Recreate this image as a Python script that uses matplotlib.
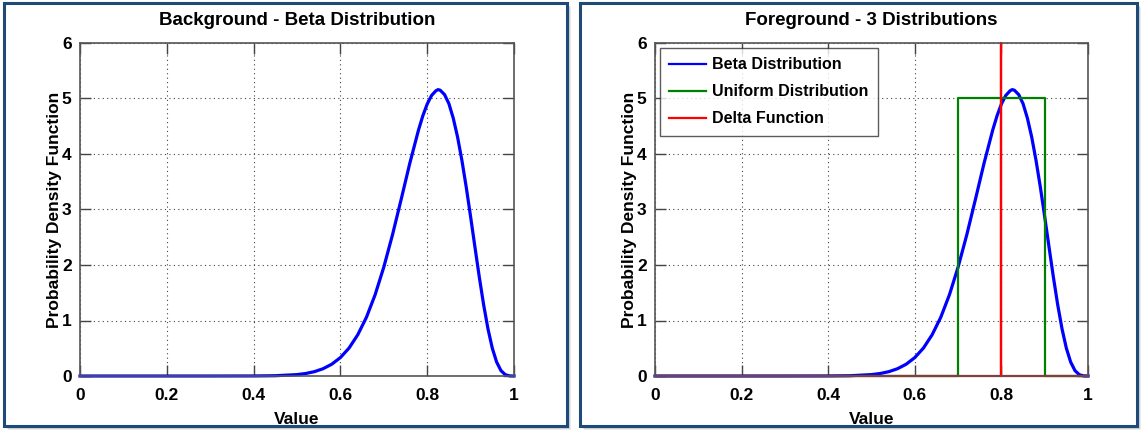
import matplotlib
matplotlib.use("Agg")
import matplotlib.pyplot as plt
from matplotlib.patches import Rectangle

plt.rcParams['font.family'] = ['Liberation Sans', 'DejaVu Sans']

# Beta distribution curve
beta_x = [0.0, 0.1, 0.2, 0.3, 0.4, 0.45, 0.5, 0.52, 0.54, 0.56, 0.58, 0.60, 0.62, 0.64,
          0.66, 0.68, 0.70, 0.72, 0.74, 0.76, 0.78, 0.79, 0.80, 0.81, 0.82, 0.825,
          0.83, 0.84, 0.85, 0.86, 0.87, 0.88, 0.89, 0.90, 0.91, 0.92, 0.93, 0.94,
          0.95, 0.96, 0.97, 0.98, 0.99, 1.0]
beta_y = [0.0, 0.0, 0.0, 0.0, 0.001, 0.005, 0.025, 0.045, 0.078, 0.131, 0.212, 0.332, 0.504, 0.743,
          1.058, 1.464, 1.962, 2.543, 3.182, 3.836, 4.433, 4.69, 4.90, 5.054, 5.139, 5.16,
          5.149, 5.07, 4.907, 4.646, 4.305, 3.883, 3.40, 2.87, 2.323, 1.785, 1.285, 0.85,
          0.501, 0.2505, 0.0965, 0.0232, 0.0018, 0.0]

# Uniform distribution (0.7 to 0.9, height 5)
unif_x = [0.0, 0.7, 0.7, 0.9, 0.9, 1.0]
unif_y = [0.0, 0.0, 5.0, 5.0, 0.0, 0.0]

# Delta function at 0.8
delta_x = [0.0, 0.8, 0.8, 0.8, 1.0]
delta_y = [0.0, 0.0, 6.0, 0.0, 0.0]

titles = ["Background - Beta Distribution", "Foreground - 3 Distributions"]
xlabel = "Value"
ylabel = "Probability Density Function"
xticks = [0, 0.2, 0.4, 0.6, 0.8, 1]
xticklabels = ["0", "0.2", "0.4", "0.6", "0.8", "1"]
yticks = [0, 1, 2, 3, 4, 5, 6]

W, H = 1142, 433
fig = plt.figure(figsize=(W / 100, H / 100), dpi=100)

frame_color = "#1d4a78"
# panel frames (pixel coords: x0, y0_top, x1, y1_bottom)
frames = [(4, 3, 567, 426), (580, 3, 1137, 426)]
for (x0, y0, x1, y1) in frames:
    for k, a in enumerate([0.12, 0.2, 0.3]):
        off = 4 - k
        fig.patches.append(Rectangle(((x0 + off) / W, 1 - (y1 + off) / H), (x1 - x0) / W, (y1 - y0) / H,
                                     transform=fig.transFigure, facecolor=(0.4, 0.4, 0.4, a),
                                     edgecolor='none', zorder=0))
    fig.patches.append(Rectangle((x0 / W, 1 - y1 / H), (x1 - x0) / W, (y1 - y0) / H,
                                 transform=fig.transFigure, facecolor='white',
                                 edgecolor=frame_color, linewidth=2.2, zorder=1))

axes_px = [(80, 43, 514, 376), (655, 43, 1088, 376)]
axs = []
for (x0, y0, x1, y1) in axes_px:
    ax = fig.add_axes([x0 / W, 1 - y1 / H, (x1 - x0) / W, (y1 - y0) / H])
    ax.set_zorder(2)
    axs.append(ax)

for i, ax in enumerate(axs):
    ax.set_xlim(0, 1)
    ax.set_ylim(0, 6)
    ax.set_xticks(xticks)
    ax.set_xticklabels(xticklabels)
    ax.set_yticks(yticks)
    ax.grid(True, linestyle=(0, (1, 3)), color='#444444', linewidth=0.8)
    ax.set_axisbelow(True)
    ax.tick_params(direction='in', top=True, right=True, length=8, width=1, color='#444444',
                   labelsize=12.5)
    ax.tick_params(axis='x', pad=9)
    ax.tick_params(axis='y', pad=6)
    for lab in ax.get_xticklabels() + ax.get_yticklabels():
        lab.set_fontweight('bold')
    for s in ax.spines.values():
        s.set_color('#555555')
        s.set_linewidth(1.2)
    ax.set_title(titles[i], fontsize=13.5, fontweight='bold', pad=13)
    ax.set_xlabel(xlabel, fontsize=12.5, fontweight='bold', labelpad=6)
    ax.set_ylabel(ylabel, fontsize=12.5, fontweight='bold', labelpad=0)

axs[0].plot(beta_x, beta_y, color='#0000ff', linewidth=2.3, clip_on=False)

axs[1].plot(beta_x, beta_y, color='#0000ff', linewidth=2.3, label='Beta Distribution', clip_on=False)
axs[1].plot(unif_x, unif_y, color='#008000', linewidth=1.6, label='Uniform Distribution', clip_on=False)
axs[1].plot(delta_x, delta_y, color='#ff0000', linewidth=1.6, label='Delta Function', clip_on=False)
leg = axs[1].legend(loc='upper left', prop={'size': 11.5, 'weight': 'bold'}, frameon=True, fancybox=False,
                    edgecolor='#333333', borderaxespad=0.3, handlelength=2.3,
                    labelspacing=0.75, borderpad=0.6, handletextpad=0.35)
leg.get_frame().set_linewidth(1.0)
for h in leg.get_lines():
    h.set_linewidth(1.6)

fig.savefig("out.png", dpi=100)
